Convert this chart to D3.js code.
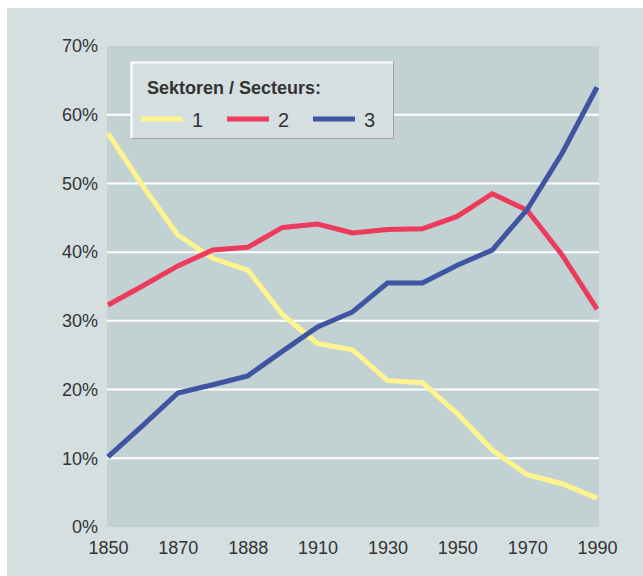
<!DOCTYPE html>
<html lang="de">
<head>
    <meta charset="UTF-8">
    <title>Sektoren / Secteurs</title>
    <script src="https://d3js.org/d3.v7.min.js"></script>
    <style>
        body { margin: 0; background: #fff; }
        svg text { font-family: "Liberation Sans", Arial, sans-serif; fill: #333; }
        .legend-title { font-family: "Liberation Sans Narrow", "Arial Narrow", sans-serif; font-weight: bold; }
    </style>
</head>
<body>
    <svg width="643" height="576"></svg>
    <script>
        // census years (1888 and 1941 are real census years)
        const years = ["1850", "1860", "1870", "1880", "1888", "1900", "1910", "1920", "1930", "1941", "1950", "1960", "1970", "1980", "1990"];
        const xTickLabels = ["1850", "1870", "1888", "1910", "1930", "1950", "1970", "1990"];
        const yTicks = [0, 10, 20, 30, 40, 50, 60, 70];

        const sector1 = [57.3, 49.6, 42.5, 39.1, 37.4, 30.9, 26.7, 25.8, 21.3, 21.0, 16.5, 11.2, 7.6, 6.3, 4.2];
        const sector2 = [32.3, 35.1, 38.0, 40.3, 40.7, 43.6, 44.1, 42.8, 43.3, 43.4, 45.2, 48.5, 46.1, 39.6, 31.7];
        const sector3 = [10.2, 14.8, 19.5, 20.7, 22.0, 25.6, 29.1, 31.3, 35.5, 35.5, 38.1, 40.3, 46.2, 54.4, 64.0];

        const seriesNames = ["1", "2", "3"];
        const colors = ["#fdf38f", "#ee3b5d", "#3f55a1"];
        const series = [sector1, sector2, sector3];

        const svg = d3.select("svg");

        // outer panel
        svg.append("rect")
            .attr("x", 7).attr("y", 8)
            .attr("width", 643 - 7).attr("height", 576 - 8)
            .attr("fill", "#d5dfe0");

        const plot = { left: 107, right: 599, top: 46, bottom: 527 };

        const x = d3.scalePoint()
            .domain(years)
            .range([108, 597]);

        const y = d3.scaleLinear()
            .domain([0, 70])
            .range([plot.bottom, plot.top]);

        svg.append("rect")
            .attr("x", plot.left).attr("y", plot.top)
            .attr("width", plot.right - plot.left).attr("height", plot.bottom - plot.top)
            .attr("fill", "#c2d1d2");

        // grid
        svg.append("g")
            .selectAll("line")
            .data(yTicks.filter(d => d > 0 && d < 70))
            .enter().append("line")
            .attr("x1", plot.left).attr("x2", plot.right)
            .attr("y1", d => y(d)).attr("y2", d => y(d))
            .attr("stroke", "#ffffff")
            .attr("stroke-width", 2);

        // y axis labels
        const yAxis = svg.append("g")
            .attr("transform", `translate(${plot.left - 9},0)`)
            .call(d3.axisLeft(y).tickValues(yTicks).tickFormat(d => d + "%").tickSize(0).tickPadding(0));
        yAxis.select(".domain").remove();
        yAxis.selectAll("text")
            .style("font-size", "18px")
            .attr("fill", "#333");

        // x axis labels
        const xAxis = svg.append("g")
            .attr("transform", `translate(0,${plot.bottom + 14})`)
            .call(d3.axisBottom(x).tickValues(years.filter((d, i) => i % 2 === 0)).tickFormat((d, i) => xTickLabels[i]).tickSize(0).tickPadding(0));
        xAxis.select(".domain").remove();
        xAxis.selectAll("text")
            .style("font-size", "18px")
            .attr("fill", "#333");

        // lines
        const line = d3.line()
            .x((d, i) => x(years[i]))
            .y(d => y(d));

        series.forEach((s, k) => {
            svg.append("path")
                .datum(s)
                .attr("d", line)
                .attr("fill", "none")
                .attr("stroke", colors[k])
                .attr("stroke-width", 5)
                .attr("stroke-linejoin", "miter");
        });

        // legend
        const lg = svg.append("g").attr("transform", "translate(131,62)");
        lg.append("rect")
            .attr("x", 0).attr("y", 0)
            .attr("width", 262).attr("height", 76)
            .attr("fill", "#d5dfe0");
        lg.append("path")
            .attr("d", "M0.5,76 L0.5,0.5 L262,0.5")
            .attr("fill", "none").attr("stroke", "#ffffff").attr("stroke-width", 2);
        lg.append("path")
            .attr("d", "M262.5,0 L262.5,76.5 L0,76.5")
            .attr("fill", "none").attr("stroke", "#a89ca8").attr("stroke-width", 1);
        lg.append("text")
            .attr("class", "legend-title")
            .attr("x", 16).attr("y", 32)
            .style("font-size", "18px")
            .text("Sektoren / Secteurs:");

        const items = lg.selectAll(".item")
            .data(seriesNames)
            .enter().append("g")
            .attr("class", "item")
            .attr("transform", (d, i) => `translate(${10 + i * 86},57)`);
        items.append("line")
            .attr("x1", 0).attr("x2", 42)
            .attr("y1", 0).attr("y2", 0)
            .attr("stroke", (d, i) => colors[i])
            .attr("stroke-width", 5);
        items.append("text")
            .attr("x", 51).attr("y", 8)
            .style("font-size", "20px")
            .text(d => d);
    </script>
</body>
</html>
